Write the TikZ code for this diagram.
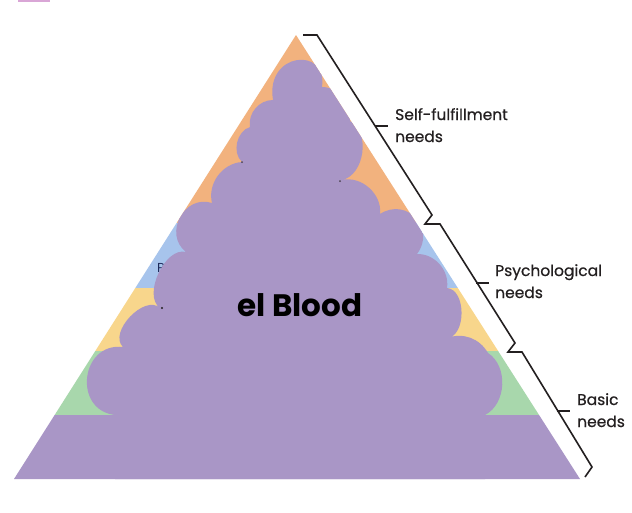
\documentclass[tikz,border=0pt]{standalone}
\usepackage{fontspec}
\setmainfont{Poppins}
\newfontfamily\lblfont{Poppins}[FakeBold=0.5]
\definecolor{orng}{HTML}{F2B27E}
\definecolor{blu}{HTML}{A7C4EC}
\definecolor{yel}{HTML}{F8D68C}
\definecolor{grn}{HTML}{A8D7AC}
\definecolor{purp}{HTML}{A996C6}
\definecolor{navy}{HTML}{1E2A5A}
\definecolor{ink}{HTML}{231F20}
\definecolor{mauve}{HTML}{D9A6D6}
\begin{document}
\begin{tikzpicture}[x=1pt,y=1pt,
  bracket/.style={line width=1.6pt, draw=ink, line join=miter},
  lbl/.style={font=\lblfont\fontsize{15.5}{22}\selectfont, text=ink, align=left, inner sep=0pt, anchor=base west},
  band/.style={inner sep=0pt, anchor=base west, text=navy, font=\fontsize{13}{15}\selectfont},
  blood/.style={inner sep=0pt, anchor=base, text=black, font=\fontsize{31}{36}\selectfont\bfseries}]
\useasboundingbox (0,0) rectangle (632,-512);
\fill[white] (0,0) rectangle (632,-512);
\fill[mauve] (18,0) rectangle (50,-2);
\coordinate (apex) at (296,-35);
\coordinate (bl) at (14,-479);
\coordinate (br) at (580,-479);
\begin{scope}
\clip (apex) -- (br) -- (bl) -- cycle;
\fill[orng] (0,0) rectangle (632,-223);
\fill[blu] (0,-223) rectangle (632,-288);
\fill[yel] (0,-288) rectangle (632,-351);
\fill[grn] (0,-351) rectangle (632,-415);
\fill[purp] (0,-415) rectangle (632,-512);
\node[band] (esteem) at (157,-272) {Prestige and feeling of accomplishment};
\fill[purp] (273,-100) .. controls (265,-52) and (328,-46) .. (322,-87)
  to[bend left=50] (350,-121)
  to[bend left=70] (342,-180)
  to[bend left=55] (380,-214)
  to[bend left=80, looseness=1.5] (417,-254)
  to[bend left=50] (447,-288)
  to[bend left=85] (447,-338)
  to[bend left=40] (488,-353)
  to[bend left=60] (485,-415)
  -- (485,-500) -- (115,-500) -- (115,-415)
  to[bend left=90, looseness=1.6] (123,-347)
  to[bend left=90] (160,-308)
  to[bend left=80, looseness=0.9] (186,-252)
  to[bend left=80, looseness=1.35] (212,-203)
  to[bend left=50] (242,-162)
  to[bend left=60] (250,-127)
  to[bend left=50] (273,-100) -- cycle;
\fill[ink] (162,-308) circle (1.2);
\fill[ink!70!purp] (242,-162) circle (1);
\fill[ink!70!purp] (340,-181) circle (1);
\end{scope}
\node[blood] (title) at (300,-316) {el Blood};
\draw[bracket] (303,-35) -- (317,-35) -- (432,-215) -- (425,-224) -- (440,-224)
  -- (515,-343) -- (508,-352) -- (522,-352) -- (592,-467) -- (585,-477);
\draw[bracket] (375,-126) -- (388,-126);
\draw[bracket] (476,-283) -- (489,-283);
\draw[bracket] (557,-411) -- (570,-411);
\node[lbl] (self) at (395,-142) {Self-fulfillment\\needs};
\node[lbl] (psych) at (495,-298) {Psychological\\needs};
\node[lbl] (basic) at (577,-427) {Basic\\needs};
\end{tikzpicture}
\end{document}
